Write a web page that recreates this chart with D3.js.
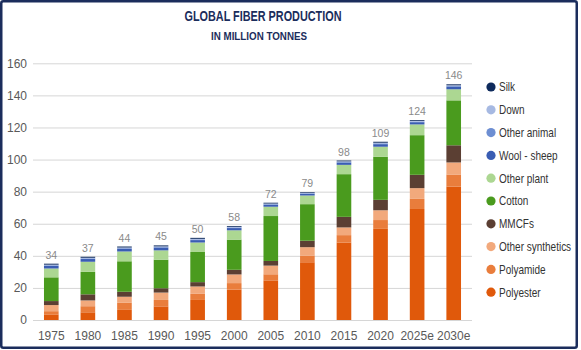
<!DOCTYPE html>
<html>
<head>
<meta charset="utf-8">
<script src="https://cdn.jsdelivr.net/npm/d3@7"></script>
<style>
  body { margin: 0; background: #fff; }
  svg { display: block; }
  .narrow { font-family: "Liberation Sans", Arial, sans-serif; }
</style>
</head>
<body>
<div id="chart"></div>
<script>
// categories
const years = ["1975", "1980", "1985", "1990", "1995", "2000", "2005", "2010", "2015", "2020", "2025e", "2030e"];
const totals = [34, 37, 44, 45, 50, 58, 72, 79, 98, 109, 124, 146];

// series values (million tonnes), bottom to top
const polyester   = [3.5, 4.8, 6.3, 8.5, 12.5, 19.0, 24.7, 36.0, 48.3, 56.8, 69.2, 83.2];
const polyamide   = [2.0, 3.8, 4.4, 4.0, 3.8, 4.0, 3.8, 4.2, 4.6, 5.5, 6.3, 7.5];
const otherSynth  = [3.8, 3.6, 3.8, 4.6, 4.6, 5.4, 5.4, 5.2, 4.8, 6.1, 6.7, 7.5];
const mmcf        = [2.5, 3.8, 3.1, 2.7, 2.7, 2.9, 2.9, 4.0, 6.6, 6.5, 8.3, 10.7];
const cotton      = [14.8, 14.0, 19.0, 17.8, 18.8, 18.8, 28.0, 22.8, 26.6, 26.8, 24.7, 28.0];
const otherPlant  = [5.5, 6.3, 6.1, 5.8, 5.9, 5.8, 5.8, 5.4, 5.8, 6.3, 6.7, 6.9];
const wool        = [1.6, 1.7, 1.7, 1.7, 1.5, 1.4, 1.3, 1.1, 1.4, 1.6, 1.4, 1.6];
const otherAnimal = [0.4, 0.4, 0.4, 0.4, 0.4, 0.4, 0.3, 0.3, 0.4, 0.5, 0.4, 0.5];
const down        = [0.4, 0.4, 0.4, 0.4, 0.4, 0.4, 0.4, 0.3, 0.4, 0.4, 0.4, 0.4];
const silk        = [0.6, 0.6, 0.6, 0.6, 0.6, 0.5, 0.5, 0.4, 0.5, 0.6, 0.5, 0.6];

const yTicks = [0, 20, 40, 60, 80, 100, 120, 140, 160];

const seriesKeys = ["Polyester", "Polyamide", "Other synthetics", "MMCFs", "Cotton",
    "Other plant", "Wool - sheep", "Other animal", "Down", "Silk"];
const seriesValues = [polyester, polyamide, otherSynth, mmcf, cotton, otherPlant, wool, otherAnimal, down, silk];
const colors = ["#e0590b", "#e97d3c", "#f2a97c", "#5b3f33", "#4a9b1e",
    "#acd792", "#3a5db3", "#6d8ed2", "#a6b9e2", "#0e2a5c"];

function fiberChart() {
    const W = 581, H = 350;
    const plot = { left: 33, right: 472, top: 63.3, bottom: 320 };

    const svg = d3.select("#chart")
        .append("svg")
        .attr("width", W)
        .attr("height", H);

    // frame
    svg.append("rect")
        .attr("x", 1.25).attr("y", 1.25)
        .attr("width", 575.5).attr("height", 346.5)
        .attr("rx", 2)
        .attr("fill", "#fff")
        .attr("stroke", "#1b2d5c")
        .attr("stroke-width", 2.5);

    // build table for the stack
    const data = years.map((y, i) => {
        const row = { year: y, total: totals[i] };
        seriesKeys.forEach((k, j) => { row[k] = seriesValues[j][i]; });
        return row;
    });
    const stackedData = d3.stack().keys(seriesKeys)(data);

    const x = d3.scaleBand()
        .domain(years)
        .range([plot.left, plot.right])
        .paddingInner(0.6)
        .paddingOuter(0.3);
    const y = d3.scaleLinear()
        .domain([0, 160])
        .range([plot.bottom, plot.top]);
    const color = d3.scaleOrdinal().domain(seriesKeys).range(colors);

    // grid lines
    const grid = svg.append("g")
        .attr("transform", `translate(${plot.left},0)`)
        .call(d3.axisLeft(y).tickValues(yTicks).tickSize(-(plot.right - plot.left)).tickFormat(""));
    grid.select(".domain").remove();
    grid.selectAll("line").attr("stroke", "#d6d6d6").attr("stroke-width", 1);

    // y tick labels
    const yAxis = svg.append("g")
        .attr("transform", `translate(${plot.left},0)`)
        .call(d3.axisLeft(y).tickValues(yTicks).tickSize(0).tickPadding(6));
    yAxis.select(".domain").remove();
    yAxis.selectAll("text")
        .attr("font-family", "Arial, 'Liberation Sans', sans-serif")
        .attr("font-size", 12)
        .attr("fill", "#595959");

    // x tick labels
    const xAxis = svg.append("g")
        .attr("transform", `translate(0,${plot.bottom})`)
        .call(d3.axisBottom(x).tickSize(0).tickPadding(11));
    xAxis.select(".domain").remove();
    xAxis.selectAll("text")
        .attr("font-family", "Arial, 'Liberation Sans', sans-serif")
        .attr("font-size", 12)
        .attr("fill", "#595959");

    // bars
    svg.append("g")
        .selectAll("g")
        .data(stackedData)
        .join("g")
        .attr("fill", d => color(d.key))
        .selectAll("rect")
        .data(d => d)
        .join("rect")
        .attr("x", d => x(d.data.year))
        .attr("y", d => y(d[1]))
        .attr("width", x.bandwidth())
        .attr("height", d => y(d[0]) - y(d[1]));

    // total labels
    const top = stackedData[stackedData.length - 1];
    svg.append("g")
        .selectAll("text")
        .data(top)
        .join("text")
        .attr("x", d => x(d.data.year) + x.bandwidth() / 2)
        .attr("y", d => y(d[1]) - 5)
        .attr("text-anchor", "middle")
        .attr("font-family", "Arial, 'Liberation Sans', sans-serif")
        .attr("font-size", 10.5)
        .attr("fill", "#8a8a8a")
        .text(d => d.data.total);

    // title
    svg.append("text")
        .attr("class", "narrow")
        .attr("x", 263).attr("y", 20.5)
        .attr("text-anchor", "middle")
        .attr("font-weight", "bold")
        .attr("font-size", 15.5)
        .attr("fill", "#1b2d5c")
        .attr("textLength", 157)
        .attr("lengthAdjust", "spacingAndGlyphs")
        .text("GLOBAL FIBER PRODUCTION");
    svg.append("text")
        .attr("class", "narrow")
        .attr("x", 259).attr("y", 39.5)
        .attr("text-anchor", "middle")
        .attr("font-weight", "bold")
        .attr("font-size", 11)
        .attr("fill", "#1b2d5c")
        .attr("textLength", 96)
        .attr("lengthAdjust", "spacingAndGlyphs")
        .text("IN MILLION TONNES");

    // legend (Silk at top)
    const legendKeys = seriesKeys.slice().reverse();
    const legend = svg.append("g")
        .attr("transform", "translate(491,87)");
    const items = legend.selectAll("g")
        .data(legendKeys)
        .join("g")
        .attr("transform", (d, i) => `translate(0,${i * 22.8})`);
    items.append("circle")
        .attr("r", 4.6)
        .attr("fill", d => color(d));
    // condensed look: squeeze the text horizontally
    items.append("text")
        .attr("class", "narrow")
        .attr("transform", "translate(8,0) scale(0.8,1)")
        .attr("dy", "0.35em")
        .attr("font-size", 12.5)
        .attr("fill", "#333")
        .text(d => d);
}

fiberChart();
</script>
</body>
</html>
